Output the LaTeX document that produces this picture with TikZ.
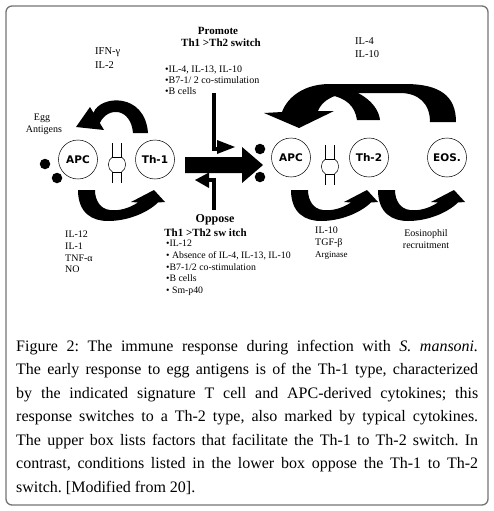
\documentclass[tikz,border=0pt]{standalone}
\usepackage{fontspec}
\setmainfont{Liberation Serif}
\newfontfamily\cellfont{DejaVu Sans}
\newcommand\setfs[1]{\fontsize{#1}{#1}\selectfont}
\frenchspacing
\begin{document}
\begin{tikzpicture}[x=1pt,y=-1pt,
  cell/.style={circle, draw, line width=0.5pt, minimum size=39pt, inner sep=0pt,
    font=\cellfont\bfseries\setfs{10.5}},
  dot/.style={circle, fill=black, minimum size=10.5pt, inner sep=0pt},
  txt/.style={inner sep=0pt, anchor=base west, font=\setfs{10}},
  ctxt/.style={inner sep=0pt, anchor=base, font=\setfs{10}},
  head/.style={inner sep=0pt, anchor=base, font=\bfseries\setfs{11}},
  capline/.style={inner sep=0pt, anchor=base west, font=\setfs{16}},
  syn/.style={line width=0.5pt},
  stem/.style={line width=4pt},
  synapse/.pic={
    \draw[syn] (-4.5,-20) -- (-4.5,-6) -- (4.5,-6) -- (4.5,-20);
    \draw[syn] (-4.5,20) -- (-4.5,9) -- (4.5,9) -- (4.5,20);
    \draw[syn] (-4.5,-6) .. controls (-10,-3) and (-10,6) .. (-4.5,9);
    \draw[syn] (4.5,-6) .. controls (10,-3) and (10,6) .. (4.5,9);
  },
  uarrow/.pic={
    \fill (0,190) .. controls (0,213) and (14,221) .. (30,221)
      .. controls (48,221) and (68,214) .. (80,202.5)
      -- (87,202) -- (76,190) -- (53,202) -- (60,202.5)
      .. controls (50,209) and (40,211) .. (32,210)
      .. controls (22,209) and (17,200) .. (17,190) -- cycle;
  }
]
\useasboundingbox (0,0) rectangle (493,511);
\draw[rounded corners=6pt, draw=black!55, line width=1.3pt] (6,6) rectangle (488,505);

% cells
\node[cell] (apcA) at (78,159.5) {APC};
\node[cell] (th1) at (155,159.5) {Th-1};
\node[cell] (apcB) at (291,157.5) {APC};
\node[cell] (th2) at (369,157.5) {Th-2};
\node[cell] (eos) at (447,157.5) {EOS.};

% egg antigen dots
\node[dot] (egg1) at (45,164) {};
\node[dot] (egg2) at (57,178) {};
\node[dot] (egg3) at (260,149) {};
\node[dot] (egg4) at (260,177) {};

% synapses
\pic at (117,163) {synapse};
\pic at (330,165) {synapse};

% big switch arrow
\fill (185,157) -- (242,157) -- (242,147) -- (263,165) -- (242,183) -- (242,173) -- (185,173) -- cycle;

% promote arrow
\draw[stem] (214,93) -- (214,149) -- (219,149);
\fill (217,140) -- (235,147) -- (217,154) -- cycle;

% oppose arrow
\draw[stem] (214,210) -- (214,180) -- (207,180);
\fill (209,172.5) -- (195,180) -- (209,188) -- cycle;

% left top curved arrow (Th-1 -> APC)
\fill (148,133) .. controls (145,92) and (100,95) .. (93.5,112.75)
  -- (90,107) -- (76,127) -- (104,130) -- (99.8,123)
  .. controls (108,106) and (131,108) .. (133,133) -- cycle;

% bottom U arrows
\pic at (78,0) {uarrow};
\begin{scope}[shift={(291,0)}, xscale=0.84]
  \pic at (0,0) {uarrow};
\end{scope}
\begin{scope}[shift={(378,0)}, xscale=0.84]
  \pic at (0,0) {uarrow};
\end{scope}

% right top arrows (EOS -> APC, Th-2 -> APC)
\fill (456,122) .. controls (456,96) and (440,84) .. (405,84) -- (330,84)
  .. controls (305,84) and (288,96) .. (282,112)
  -- (264,113) -- (299,128) -- (334,111) -- (318,111)
  .. controls (322,100) and (335,93) .. (355,93) -- (400,93)
  .. controls (418,93) and (430,103) .. (430,122) -- cycle;
\fill (357,120) .. controls (355,106) and (346,98) .. (330,95) -- (340,86)
  .. controls (362,92) and (378,104) .. (380,120) -- cycle;

% labels
\node[head] (promote) at (218,35) {Promote};
\node[head] (swA) at (221,47) {Th1 >Th2 switch};
\node[txt] (pA) at (165,72) {•IL-4, IL-13, IL-10};
\node[txt] (pB) at (165,84) {•B7-1/ 2 co-stimulation};
\node[txt] (pC) at (165,94.5) {•B cells};

\node[txt, font=\setfs{10.5}] (ifn) at (95,55) {IFN-γ};
\node[txt, font=\setfs{10.5}] (il2) at (95,69) {IL-2};
\node[ctxt] (egg) at (42,120) {Egg};
\node[ctxt] (antig) at (44,132) {Antigens};
\node[txt, font=\setfs{10.5}] (il4) at (355,45) {IL-4};
\node[txt, font=\setfs{10.5}] (il10a) at (355,57) {IL-10};

\node[head, font=\bfseries\setfs{12}] (oppose) at (215,222) {Oppose};
\node[head] (swB) at (205.5,236) {Th1 >Th2 sw itch};
\node[txt, font=\setfs{9.8}] (oA) at (166,246) {•IL-12};
\node[txt, font=\setfs{9.8}] (oB) at (166,258) {• Absence of IL-4, IL-13, IL-10};
\node[txt, font=\setfs{9.8}] (oC) at (166,270) {•B7-1/2 co-stimulation};
\node[txt, font=\setfs{9.8}] (oD) at (166,281.5) {•B cells};
\node[txt, font=\setfs{9.8}] (oE) at (166,293) {• Sm-p40};

\node[txt] (il12) at (65,237) {IL-12};
\node[txt] (il1) at (65,249) {IL-1};
\node[txt] (tnf) at (65,261) {TNF-α};
\node[txt] (no) at (65,272.5) {NO};

\node[txt] (il10b) at (315,233) {IL-10};
\node[txt] (tgf) at (315,245) {TGF-β};
\node[txt, font=\setfs{9}] (arg) at (315,257) {Arginase};

\node[ctxt] (eosi) at (426,236) {Eosinophil};
\node[ctxt] (recr) at (426,248) {recruitment};

% caption
\node[capline] (c1) at (16,351) {\makebox[462pt][s]{Figure 2: The immune response during infection with \textit{S. mansoni.}}};
\node[capline] (c2) at (16,374.5) {\makebox[462pt][s]{The early response to egg antigens is of the Th-1 type, characterized}};
\node[capline] (c3) at (16,398) {\makebox[462pt][s]{by the indicated signature T cell and APC-derived cytokines; this}};
\node[capline] (c4) at (16,421.5) {\makebox[462pt][s]{response switches to a Th-2 type, also marked by typical cytokines.}};
\node[capline] (c5) at (16,445) {\makebox[462pt][s]{The upper box lists factors that facilitate the Th-1 to Th-2 switch. In}};
\node[capline] (c6) at (16,468.5) {\makebox[462pt][s]{contrast, conditions listed in the lower box oppose the Th-1 to Th-2}};
\node[capline] (c7) at (16,492) {switch. [Modified from 20].};
\end{tikzpicture}
\end{document}
